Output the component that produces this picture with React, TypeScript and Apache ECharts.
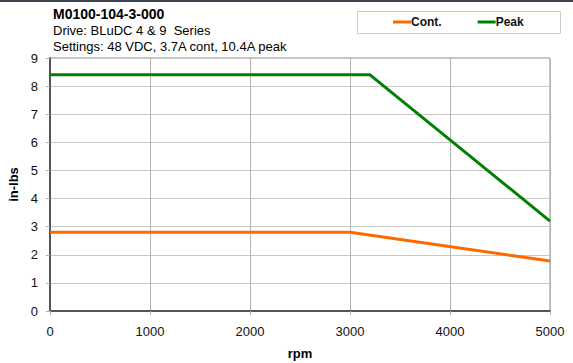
import React, { useEffect, useRef } from "react";
import * as echarts from "echarts";

const titleLines = ["M0100-104-3-000", "Drive: BLuDC 4 & 9  Series", "Settings: 48 VDC, 3.7A cont, 10.4A peak"];
const seriesNames = ["Cont.", "Peak"];
const contRpm = [0, 3000, 5000];
const contTorque = [2.8, 2.8, 1.78];
const peakRpm = [0, 3200, 5000];
const peakTorque = [8.4, 8.4, 3.2];
const xTicks = { min: 0, max: 5000, interval: 1000 };
const yTicks = { min: 0, max: 9, interval: 1 };

const FONT = "'Liberation Sans', Arial, sans-serif";

export default function App() {
  const ref = useRef<HTMLDivElement>(null);
  useEffect(() => {
    const chart = echarts.init(ref.current!, undefined, { renderer: "svg" });
    const contData = contRpm.map((x, i) => [x, contTorque[i]]);
    const peakData = peakRpm.map((x, i) => [x, peakTorque[i]]);
    chart.setOption({
      animation: false,
      backgroundColor: "#ffffff",
      textStyle: { fontFamily: FONT },
      grid: { left: 50, right: 23, top: 58, bottom: 52, containLabel: false, outerBoundsMode: "none", show: true, borderColor: "#8c8c8c", borderWidth: 1, backgroundColor: "transparent" },
      legend: {
        data: seriesNames,
        left: 393,
        top: 15,
        padding: 0,
        itemWidth: 18,
        itemHeight: 3,
        itemGap: 36,
        icon: "rect",
        textStyle: { fontFamily: FONT, fontWeight: "bold", fontSize: 12, color: "#111", lineHeight: 14, padding: [0, 0, 0, -5] },
      },
      graphic: [
        { type: "rect", left: 0, top: 0, shape: { width: 573, height: 2 }, style: { fill: "#3d4753" }, z: 100 },
        { type: "rect", shape: { x: 357.5, y: 11.5, width: 203, height: 22 }, style: { fill: "#fff", stroke: "#cccccc", lineWidth: 1 }, z: -1 },
        { type: "text", x: 53, y: 7, style: { text: titleLines[0], font: `bold 14px ${FONT}`, fill: "#000" } },
        { type: "text", x: 53, y: 24, style: { text: titleLines[1], font: `13px ${FONT}`, fill: "#000" } },
        { type: "text", x: 53, y: 40, style: { text: titleLines[2], font: `13px ${FONT}`, fill: "#000" } },
      ],
      xAxis: {
        type: "value",
        min: xTicks.min,
        max: xTicks.max,
        interval: xTicks.interval,
        name: "rpm",
        nameLocation: "middle",
        nameGap: 36,
        nameTextStyle: { fontFamily: FONT, fontWeight: "bold", fontSize: 13, color: "#000" },
        axisLine: { show: true, lineStyle: { color: "#555", width: 2 } },
        axisTick: { show: true, length: 4, lineStyle: { color: "#b0b0b0" } },
        axisLabel: { fontFamily: FONT, fontSize: 13, color: "#111", margin: 14, formatter: (v: number) => String(v) },
        splitLine: { show: true, lineStyle: { color: "#b4b4b4", width: 1 } },
      },
      yAxis: {
        type: "value",
        min: yTicks.min,
        max: yTicks.max,
        interval: yTicks.interval,
        name: "in-lbs",
        nameLocation: "middle",
        nameGap: 18,
        nameTextStyle: { fontFamily: FONT, fontWeight: "bold", fontSize: 13, color: "#000" },
        axisLine: { show: true, lineStyle: { color: "#555", width: 2 } },
        axisTick: { show: true, length: 4, lineStyle: { color: "#b0b0b0" } },
        axisLabel: { fontFamily: FONT, fontSize: 13, color: "#111", margin: 12 },
        splitLine: { show: true, lineStyle: { color: "#c8c8c8", width: 1 } },
      },
      series: [
        { name: seriesNames[0], type: "line", data: contData, showSymbol: false, symbol: "none", lineStyle: { color: "#ff6a00", width: 3 }, itemStyle: { color: "#ff6a00" }, z: 3 },
        { name: seriesNames[1], type: "line", data: peakData, showSymbol: false, symbol: "none", lineStyle: { color: "#008000", width: 3 }, itemStyle: { color: "#008000" }, z: 4 },
      ],
    });
    return () => chart.dispose();
  }, []);
  return <div ref={ref} style={{ position: "absolute", left: 0, top: 0, width: 573, height: 363 }} />;
}
